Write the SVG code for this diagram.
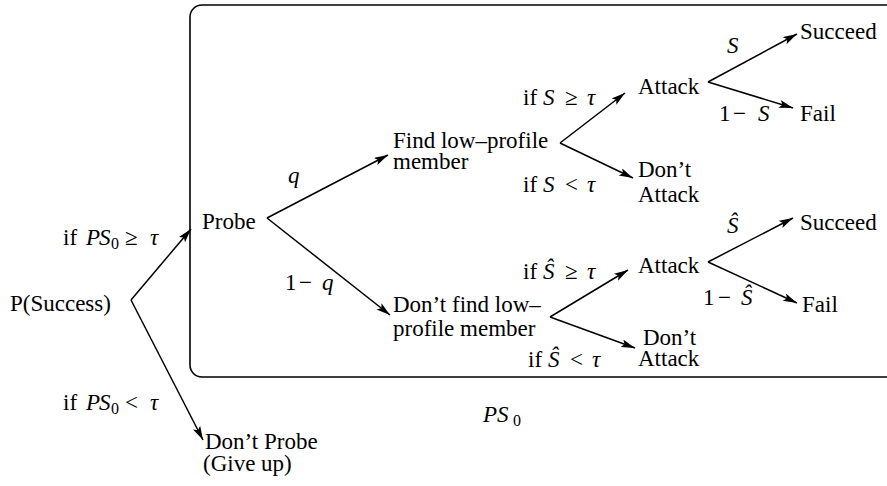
<svg xmlns="http://www.w3.org/2000/svg" width="887" height="486" viewBox="0 0 887 486">
<style>
  .t { font-family: 'Liberation Serif', Tinos, 'Times New Roman', 'DejaVu Serif', serif; font-size: 23px; fill: #000; }
  .i { font-style: italic; }
  .sub { font-size: 16px; }
  .e { stroke: #000; stroke-width: 1.5; fill: none; marker-end: url(#ah); }
  .box { stroke: #000; stroke-width: 1.6; fill: none; }
</style>
<defs>
  <marker id="ah" markerUnits="userSpaceOnUse" markerWidth="18" markerHeight="10" refX="14" refY="4" orient="auto">
    <path d="M0,0 L14,4 L0,8 L3,4 Z" fill="#000"/>
  </marker>
</defs>
<rect width="887" height="486" fill="#fff"/>

<g id="region-box">
  <path class="box" d="M 900,5 H 202 A 12 12 0 0 0 190,17 V 365 A 12 12 0 0 0 202,377 H 900"/>
  <text class="t i" x="483" y="422" font-size="26">P<tspan x="497">S</tspan><tspan class="sub" x="513" dy="4" font-style="normal" font-size="18">0</tspan></text>
</g>

<g id="connectors">
  <line class="e" x1="131" y1="300" x2="191" y2="229"/>
  <line class="e" x1="131" y1="300" x2="203" y2="440"/>
  <line class="e" x1="267" y1="218" x2="388" y2="155"/>
  <line class="e" x1="267" y1="218" x2="390" y2="315"/>
  <line class="e" x1="560" y1="143" x2="625" y2="93"/>
  <line class="e" x1="560" y1="143" x2="633" y2="178"/>
  <line class="e" x1="708" y1="82" x2="797" y2="34"/>
  <line class="e" x1="708" y1="82" x2="793" y2="108"/>
  <line class="e" x1="550" y1="317" x2="628" y2="270"/>
  <line class="e" x1="550" y1="317" x2="635" y2="348"/>
  <line class="e" x1="708" y1="262" x2="793" y2="218"/>
  <line class="e" x1="708" y1="262" x2="797" y2="303"/>
</g>

<g id="edge-labels">
  <text class="t" y="245"><tspan x="63">if</tspan><tspan class="i" x="86">P</tspan><tspan class="i" x="99">S</tspan><tspan class="sub" x="111" dy="4">0</tspan><tspan x="125" dy="-4">≥</tspan><tspan class="i" x="150">τ</tspan></text>
  <text class="t" y="410"><tspan x="63">if</tspan><tspan class="i" x="86">P</tspan><tspan class="i" x="99">S</tspan><tspan class="sub" x="111" dy="4">0</tspan><tspan x="125" dy="-4">&lt;</tspan><tspan class="i" x="150">τ</tspan></text>
  <text class="t i" x="288" y="183">q</text>
  <text class="t" y="290"><tspan x="285">1</tspan><tspan x="299">−</tspan><tspan class="i" x="322">q</tspan></text>
  <text class="t" y="105"><tspan x="523">if</tspan><tspan class="i" x="543">S</tspan><tspan x="565">≥</tspan><tspan class="i" x="587">τ</tspan></text>
  <text class="t" y="192"><tspan x="523">if</tspan><tspan class="i" x="543">S</tspan><tspan x="565">&lt;</tspan><tspan class="i" x="587">τ</tspan></text>
  <text class="t" y="279"><tspan x="523">if</tspan><tspan class="i" x="543">Ŝ</tspan><tspan x="565">≥</tspan><tspan class="i" x="587">τ</tspan></text>
  <text class="t" y="367"><tspan x="528">if</tspan><tspan class="i" x="548">Ŝ</tspan><tspan x="570">&lt;</tspan><tspan class="i" x="592">τ</tspan></text>
  <text class="t i" x="727" y="53">S</text>
  <text class="t" y="121"><tspan x="719">1</tspan><tspan x="733">−</tspan><tspan class="i" x="758">S</tspan></text>
  <text class="t i" x="727" y="233">Ŝ</text>
  <text class="t" y="305"><tspan x="703">1</tspan><tspan x="718">−</tspan><tspan class="i" x="741">Ŝ</tspan></text>
</g>

<g id="node-success"><text class="t" x="10" y="311">P(Success)</text></g>
<g id="node-probe"><text class="t" x="202" y="229">Probe</text></g>
<g id="node-dont-probe">
  <text class="t" x="205" y="449">Don’t Probe</text>
  <text class="t" x="203" y="471">(Give up)</text>
</g>
<g id="node-find">
  <text class="t" x="393" y="148">Find low–profile</text>
  <text class="t" x="393" y="169">member</text>
</g>
<g id="node-dont-find">
  <text class="t" x="393" y="312">Don’t find low–</text>
  <text class="t" x="393" y="336">profile member</text>
</g>
<g id="node-attack-1"><text class="t" x="638" y="94">Attack</text></g>
<g id="node-dont-attack-1">
  <text class="t" x="638" y="177">Don’t</text>
  <text class="t" x="638" y="202">Attack</text>
</g>
<g id="node-succeed-1"><text class="t" x="800" y="39">Succeed</text></g>
<g id="node-fail-1"><text class="t" x="800" y="121">Fail</text></g>
<g id="node-attack-2"><text class="t" x="638" y="273">Attack</text></g>
<g id="node-dont-attack-2">
  <text class="t" x="643" y="345">Don’t</text>
  <text class="t" x="638" y="366">Attack</text>
</g>
<g id="node-succeed-2"><text class="t" x="800" y="230">Succeed</text></g>
<g id="node-fail-2"><text class="t" x="802" y="312">Fail</text></g>
</svg>
